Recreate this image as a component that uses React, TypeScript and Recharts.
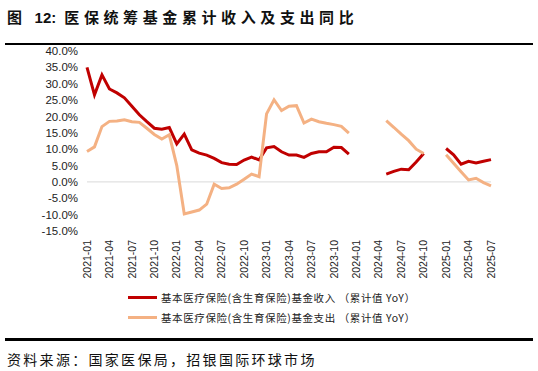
import { LineChart, Line, XAxis, YAxis, ReferenceLine } from 'recharts';

const months = [
  '2021-01', '2021-02', '2021-03', '2021-04', '2021-05', '2021-06', '2021-07', '2021-08', '2021-09', '2021-10', '2021-11', '2021-12',
  '2022-01', '2022-02', '2022-03', '2022-04', '2022-05', '2022-06', '2022-07', '2022-08', '2022-09', '2022-10', '2022-11', '2022-12',
  '2023-01', '2023-02', '2023-03', '2023-04', '2023-05', '2023-06', '2023-07', '2023-08', '2023-09', '2023-10', '2023-11', '2023-12',
  '2024-01', '2024-02', '2024-03', '2024-04', '2024-05', '2024-06', '2024-07', '2024-08', '2024-09', '2024-10', '2024-11', '2024-12',
  '2025-01', '2025-02', '2025-03', '2025-04', '2025-05', '2025-06', '2025-07'
];

// 基金收入 累计同比 (%)
const income = [
  35.0, 26.6, 32.7, 28.4, 27.2, 25.7, 23.1, 20.5, 18.4, 16.4, 16.1, 16.6,
  11.6, 14.6, 9.8, 8.8, 8.2, 7.2, 5.9, 5.4, 5.3, 6.7, 7.6, 6.7,
  10.4, 10.8, 9.2, 8.2, 8.2, 7.5, 8.7, 9.2, 9.2, 10.6, 10.5, 8.5,
  null, null, null, null, 2.4, 3.2, 3.9, 3.7, 6.1, 8.7, null, null,
  10.2, 8.3, 5.4, 6.3, 5.8, 6.3, 6.8
];

// 基金支出 累计同比 (%)
const expense = [
  9.3, 10.7, 16.9, 18.5, 18.6, 19.0, 18.4, 18.2, 16.4, 14.5, 13.1, 14.4,
  5.0, -9.8, -9.2, -8.6, -6.8, -0.7, -2.0, -1.8, -0.7, 0.8, 2.4, 1.6,
  20.8, 25.1, 21.8, 23.1, 23.3, 18.0, 19.2, 18.4, 17.9, 17.5, 17.0, 14.9,
  null, null, null, null, 18.7, 16.7, 14.6, 12.6, 10.0, 8.7, null, null,
  8.3, 5.7, 3.1, 0.6, 1.1, -0.2, -1.2
];

const yTicks = [-15, -10, -5, 0, 5, 10, 15, 20, 25, 30, 35, 40];

const seriesNames = [
  '基本医疗保险(含生育保险)基金收入 （累计值 YoY）',
  '基本医疗保险(含生育保险)基金支出 （累计值 YoY）'
];
const colors = ['#C00000', '#F4B183'];

const data = months.map((m, i) => ({ month: m, income: income[i], expense: expense[i] }));

const cjk = '"Noto Sans CJK SC", sans-serif';
const latin = '"Liberation Sans", Arial, sans-serif';

const MonthTick = (props: any) => {
  const { x, y, payload } = props;
  return (
    <text
      x={x}
      y={y}
      transform={`rotate(-90, ${x}, ${y})`}
      textAnchor="end"
      dy="0.35em"
      fontSize={10.5}
      fontFamily={latin}
      fill="#222"
    >
      {payload.value}
    </text>
  );
};

export default function App() {
  return (
    <div style={{ position: 'absolute', left: 0, top: 0, width: 538, height: 371, background: '#fff', overflow: 'hidden' }}>
      <div
        style={{
          position: 'absolute',
          left: 7,
          top: 6,
          fontFamily: cjk,
          fontWeight: 700,
          fontSize: 15,
          letterSpacing: 4.6,
          color: '#111',
          whiteSpace: 'nowrap'
        }}
      >
        图 <span style={{ fontFamily: latin, letterSpacing: 0 }}>12:</span> 医保统筹基金累计收入及支出同比
      </div>
      <div style={{ position: 'absolute', left: 5, top: 43, width: 528, height: 2, background: '#000' }} />

      <div style={{ position: 'absolute', left: 0, top: 0 }}>
        <LineChart width={538} height={290} data={data} margin={{ top: 51, right: 47, bottom: 9, left: 0 }}>
          <XAxis
            dataKey="month"
            interval={2}
            axisLine={false}
            tickLine={false}
            tickSize={0}
            tickMargin={9}
            height={50}
            tick={<MonthTick />}
          />
          <YAxis
            domain={[-15, 40]}
            ticks={yTicks}
            interval={0}
            width={87}
            axisLine={false}
            tickLine={false}
            tickSize={0}
            tickMargin={9}
            tickFormatter={(v: number) => `${v.toFixed(1)}%`}
            tick={{ fontSize: 11.5, fontFamily: latin, fill: '#222' }}
          />
          <ReferenceLine y={0} stroke="#d9d9d9" strokeWidth={1} />
          <Line
            dataKey="income"
            stroke={colors[0]}
            strokeWidth={3}
            dot={false}
            connectNulls={false}
            isAnimationActive={false}
          />
          <Line
            dataKey="expense"
            stroke={colors[1]}
            strokeWidth={3}
            dot={false}
            connectNulls={false}
            isAnimationActive={false}
          />
        </LineChart>
      </div>

      <div style={{ position: 'absolute', left: 128, top: 290, display: 'flex', flexDirection: 'column', gap: 6 }}>
        {seriesNames.map((name, i) => (
          <div key={name} style={{ display: 'flex', alignItems: 'center', height: 14 }}>
            <span style={{ display: 'inline-block', width: 29, height: 3, background: colors[i], marginRight: 4 }} />
            <span style={{ fontFamily: cjk, fontSize: 10.5, letterSpacing: 0.6, color: '#222', whiteSpace: 'nowrap' }}>
              {name}
            </span>
          </div>
        ))}
      </div>

      <div style={{ position: 'absolute', left: 5, top: 338, width: 528, height: 3, background: '#000' }} />
      <div
        style={{
          position: 'absolute',
          left: 7,
          top: 349,
          fontFamily: cjk,
          fontSize: 14,
          letterSpacing: 2.3,
          color: '#111',
          whiteSpace: 'nowrap',
          lineHeight: '20px'
        }}
      >
        资料来源：国家医保局，招银国际环球市场
      </div>
    </div>
  );
}
